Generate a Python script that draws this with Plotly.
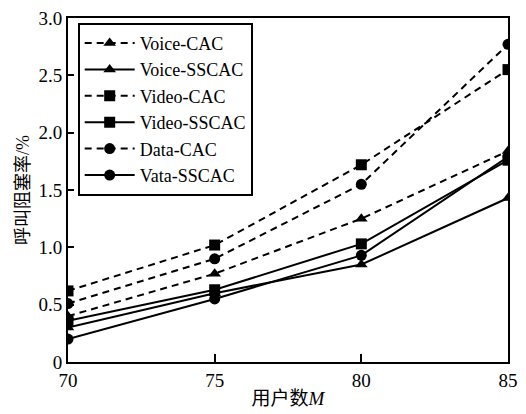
import plotly.graph_objects as go

users = [70, 75, 80, 85]
voice_cac = [0.40, 0.77, 1.25, 1.84]
voice_sscac = [0.30, 0.60, 0.85, 1.43]
video_cac = [0.62, 1.02, 1.72, 2.55]
video_sscac = [0.36, 0.63, 1.03, 1.76]
data_cac = [0.51, 0.90, 1.55, 2.77]
vata_sscac = [0.20, 0.55, 0.93, 1.79]

series = [
    ("Voice-CAC", voice_cac, "triangle-up", "7px,5px"),
    ("Voice-SSCAC", voice_sscac, "triangle-up", "solid"),
    ("Video-CAC", video_cac, "square", "7px,5px"),
    ("Video-SSCAC", video_sscac, "square", "solid"),
    ("Data-CAC", data_cac, "circle", "7px,5px"),
    ("Vata-SSCAC", vata_sscac, "circle", "solid"),
]

x_ticks = [70, 75, 80, 85]
y_ticks = [0, 0.5, 1.0, 1.5, 2.0, 2.5, 3.0]
y_ticktext = ["0", "0.5", "1.0", "1.5", "2.0", "2.5", "3.0"]

serif = "Liberation Serif, Times New Roman, serif"
cjk = "Liberation Serif, Noto Sans CJK SC, serif"

fig = go.Figure()
for name, vals, sym, dash in series:
    fig.add_trace(go.Scatter(
        x=users, y=vals, name=name, mode="lines+markers",
        line=dict(color="black", width=2, dash=dash),
        marker=dict(symbol=sym, size=11, color="black"),
    ))

fig.update_layout(
    width=526, height=414,
    margin=dict(l=68, r=8, t=18, b=35),
    paper_bgcolor="white", plot_bgcolor="white",
    font=dict(family=serif, size=19, color="black"),
    showlegend=True,
    legend=dict(
        x=0.022, y=0.986, xanchor="left", yanchor="top",
        bgcolor="white", bordercolor="black", borderwidth=2,
        font=dict(family=serif, size=18, color="black"),
        tracegroupgap=0, itemwidth=50,
    ),
    xaxis=dict(
        range=[70, 85], tickvals=x_ticks, ticks="inside", ticklen=8,
        tickwidth=2, tickcolor="black",
        showline=True, linecolor="black", linewidth=2, mirror=True,
        showgrid=False, zeroline=False,
        tickfont=dict(family=serif, size=19),
        title=dict(text="用户数<i>M</i>", font=dict(family=cjk, size=19), standoff=2),
    ),
    yaxis=dict(
        range=[0, 3.0], tickvals=y_ticks, ticktext=y_ticktext, ticks="inside",
        ticklen=6, tickwidth=2, tickcolor="black",
        showline=True, linecolor="black", linewidth=2, mirror=True,
        showgrid=False, zeroline=False,
        tickfont=dict(family=serif, size=19),
        title=dict(text="呼叫阻塞率/%", font=dict(family=cjk, size=18), standoff=4),
    ),
)

fig.write_html("out.html")
